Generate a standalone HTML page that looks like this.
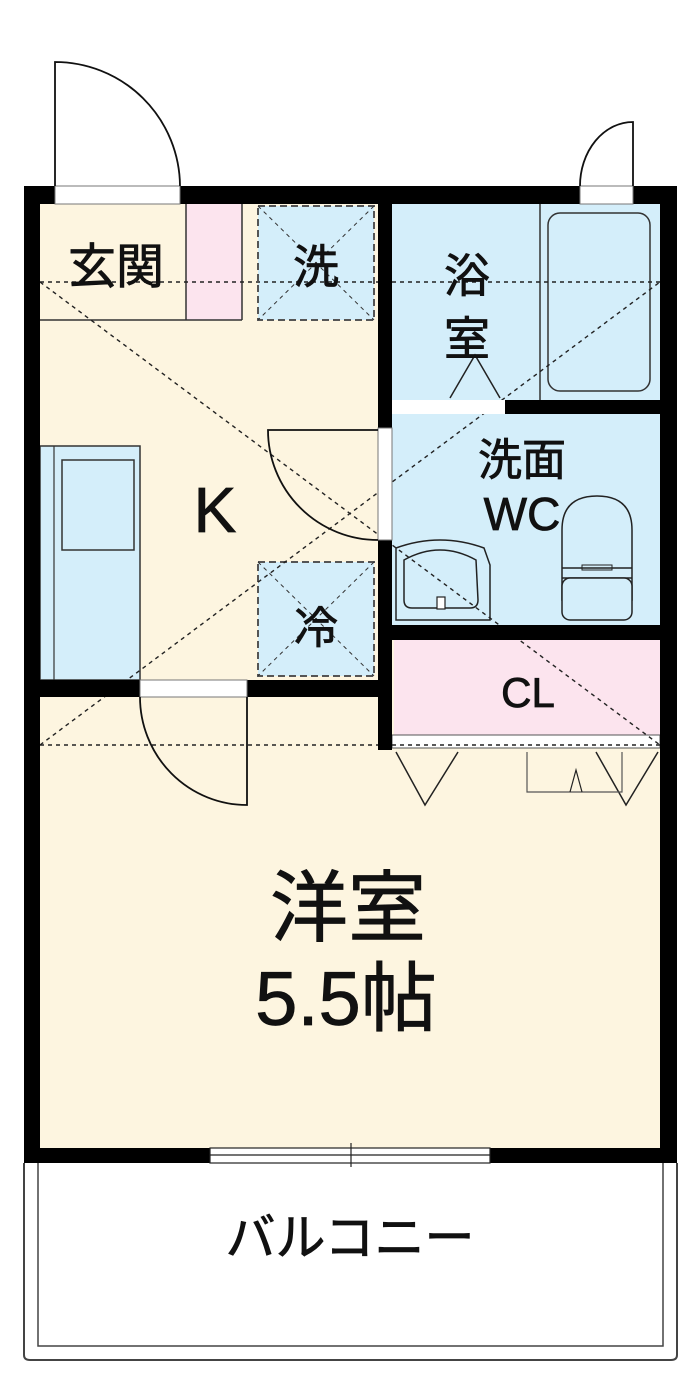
<!DOCTYPE html>
<html><head><meta charset="utf-8"><style>
html,body{margin:0;padding:0;background:#fff}
svg{display:block}
text{font-family:"Liberation Sans","Noto Sans CJK JP",sans-serif;fill:#111;text-anchor:middle;stroke:#111;stroke-width:0.8}
</style></head><body>
<svg width="700" height="1374" viewBox="0 0 700 1374" xmlns="http://www.w3.org/2000/svg">
<rect x="40" y="204" width="620" height="944" fill="#fdf5e0"/>
<rect x="186" y="204" width="56" height="116" fill="#fce4ee"/>
<line x1="186" y1="204" x2="186" y2="320" stroke="#333" stroke-width="1.5"/>
<line x1="242" y1="204" x2="242" y2="320" stroke="#333" stroke-width="1.5"/>
<line x1="40" y1="320" x2="242" y2="320" stroke="#333" stroke-width="1.5"/>
<rect x="258" y="206" width="116" height="114" fill="#d4eefa" stroke="#555" stroke-width="2" stroke-dasharray="7,4"/>
<line x1="258" y1="206" x2="374" y2="320" stroke="#333" stroke-dasharray="4,4"/>
<line x1="374" y1="206" x2="258" y2="320" stroke="#333" stroke-dasharray="4,4"/>
<rect x="392" y="204" width="268" height="196" fill="#d4eefa"/>
<line x1="540" y1="204" x2="540" y2="400" stroke="#333" stroke-width="1.5"/>
<rect x="548" y="213" width="102" height="178" rx="12" fill="none" stroke="#333" stroke-width="1.5"/>
<polyline points="450,398 475,355 500,398" fill="none" stroke="#222" stroke-width="1.5"/>
<rect x="392" y="414" width="268" height="211" fill="#d4eefa"/>
<path d="M396,548 Q440,532 484,548 L490,565 L490,620 L396,620 Z" fill="none" stroke="#222" stroke-width="1.5"/>
<path d="M404,560 Q440,540 476,560 L478,600 Q478,608 470,608 L412,608 Q404,608 404,600 Z" fill="none" stroke="#222" stroke-width="1.5"/>
<rect x="437" y="597" width="8" height="12" fill="#fff" stroke="#222" stroke-width="1.2"/>
<path d="M562,530 Q562,496 597,496 Q632,496 632,530 L632,600 L562,600 Z" fill="none" stroke="#222" stroke-width="1.5"/>
<path d="M562,568 L632,568 M562,578 L632,578" stroke="#222" stroke-width="1.5"/>
<rect x="562" y="578" width="70" height="42" rx="8" fill="#d4eefa" stroke="#222" stroke-width="1.5"/>
<rect x="582" y="565" width="30" height="5" fill="none" stroke="#222"/>
<rect x="394" y="640" width="266" height="95" fill="#fce4ee"/>
<rect x="392" y="735" width="268" height="13" fill="#fff" stroke="#555" stroke-width="1"/>
<polyline points="396,752 425,805 458,752" fill="none" stroke="#222" stroke-width="1.5"/>
<polyline points="596,752 626,805 658,752" fill="none" stroke="#222" stroke-width="1.5"/>
<polyline points="527,752 527,792 622,792 622,752" fill="none" stroke="#555" stroke-width="1.2"/>
<polyline points="570,792 576,770 582,792" fill="none" stroke="#222" stroke-width="1.2"/>
<rect x="40" y="446" width="100" height="234" fill="#d4eefa" stroke="#333" stroke-width="1.5"/>
<line x1="54" y1="446" x2="54" y2="680" stroke="#333" stroke-width="1.2"/>
<rect x="62" y="460" width="72" height="90" fill="none" stroke="#333" stroke-width="1.5"/>
<rect x="258" y="562" width="116" height="114" fill="#d4eefa" stroke="#555" stroke-width="2" stroke-dasharray="7,4"/>
<line x1="258" y1="562" x2="374" y2="676" stroke="#333" stroke-dasharray="4,4"/>
<line x1="374" y1="562" x2="258" y2="676" stroke="#333" stroke-dasharray="4,4"/>
<g stroke="#222" stroke-width="1.4" stroke-dasharray="4,4" fill="none">
<line x1="40" y1="282" x2="660" y2="282"/>
<line x1="40" y1="745" x2="660" y2="745"/>
<line x1="40" y1="282" x2="660" y2="745"/>
<line x1="40" y1="745" x2="660" y2="282"/>
</g>
<g fill="#000">
<rect x="24" y="186" width="653" height="18"/>
<rect x="24" y="186" width="16" height="977"/>
<rect x="660" y="186" width="17" height="977"/>
<rect x="24" y="1148" width="653" height="15"/>
<rect x="378" y="186" width="14" height="564"/>
<rect x="505" y="400" width="172" height="14"/>
<rect x="378" y="625" width="299" height="15"/>
<rect x="24" y="680" width="368" height="17"/>
</g>
<rect x="55" y="186" width="125" height="18" fill="#fff" stroke="#777" stroke-width="1"/>
<rect x="580" y="186" width="53" height="18" fill="#fff" stroke="#777" stroke-width="1"/>
<rect x="392" y="400" width="113" height="14" fill="#fff"/>
<rect x="378" y="428" width="14" height="112" fill="#fff" stroke="#777" stroke-width="1"/>
<rect x="140" y="680" width="107" height="17" fill="#fff" stroke="#777" stroke-width="1"/>
<rect x="210" y="1148" width="280" height="15" fill="#fff" stroke="#222" stroke-width="1.2"/>
<line x1="210" y1="1155" x2="490" y2="1155" stroke="#222" stroke-width="1.2"/>
<line x1="351" y1="1143" x2="351" y2="1167" stroke="#222" stroke-width="1.2"/>
<g fill="none" stroke="#111" stroke-width="1.8">
<path d="M55,186 L55,62 A125,125 0 0 1 180,186"/>
<path d="M633,186 L633,122 A53,64 0 0 0 580,186"/>
<path d="M378,430 L268,430 A110,110 0 0 0 378,540"/>
<path d="M247,697 L247,805 A107,108 0 0 1 140,697"/>
</g>
<path d="M24,1163 L24,1355 Q24,1360 30,1360 L671,1360 Q677,1360 677,1355 L677,1163" fill="none" stroke="#444" stroke-width="2"/>
<path d="M38,1163 L38,1346 L663,1346 L663,1163" fill="none" stroke="#444" stroke-width="1.5"/>
<text x="116" y="283" font-size="48">玄関</text>
<text x="316" y="283" font-size="46">洗</text>
<text x="467" y="292" font-size="46">浴</text>
<text x="467" y="355" font-size="46">室</text>
<text x="215" y="532" font-size="64">K</text>
<text x="522" y="475" font-size="44">洗面</text>
<text x="522" y="530" font-size="46">WC</text>
<text x="316" y="643" font-size="44">冷</text>
<text x="528" y="707" font-size="42">CL</text>
<text x="348" y="935" font-size="78">洋室</text>
<text x="346" y="1025" font-size="76">5.5帖</text>
<text x="350" y="1255" font-size="50">バルコニー</text>
</svg>
</body></html>
